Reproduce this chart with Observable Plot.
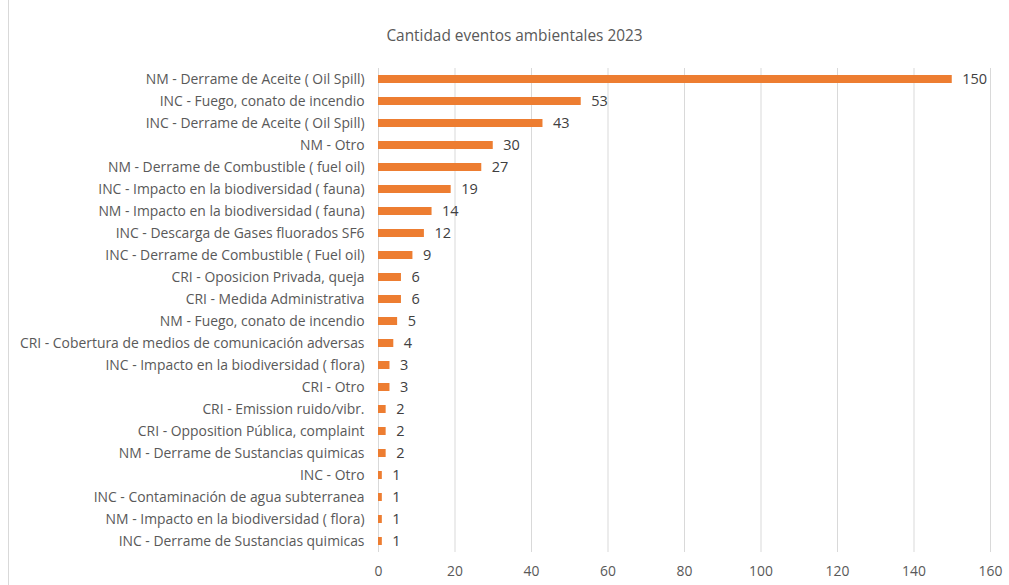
<!DOCTYPE html>
<html>
<head>
<meta charset="utf-8">
<script src="https://cdn.jsdelivr.net/npm/d3@7"></script>
<script src="https://cdn.jsdelivr.net/npm/@observablehq/plot@0.6"></script>
<style>
  html, body { margin: 0; padding: 0; background: #fff; }
  #wrap { position: relative; width: 1009px; height: 585px; overflow: hidden; }
  #border { position: absolute; left: 8px; top: 0; width: 1px; height: 585px; background: #d9d9d9; }
  #title { position: absolute; left: 0; width: 1009px; top: 25px; text-align: center; padding-left: 20px; box-sizing: border-box;
           font-family: "Open Sans", sans-serif; font-size: 15.4px; color: #595959; }
  #chart { position: absolute; left: 0; top: 0; }
</style>
</head>
<body>
<div id="wrap">
  <div id="border"></div>
  <div id="chart"></div>
  <div id="title">Cantidad eventos ambientales 2023</div>
</div>
<script>
const categories = [
  "NM - Derrame de Aceite ( Oil Spill)",
  "INC - Fuego, conato de incendio",
  "INC - Derrame de Aceite ( Oil Spill)",
  "NM - Otro",
  "NM - Derrame de Combustible ( fuel oil)",
  "INC - Impacto en la biodiversidad ( fauna)",
  "NM - Impacto en la biodiversidad ( fauna)",
  "INC - Descarga de Gases fluorados SF6",
  "INC - Derrame de Combustible ( Fuel oil)",
  "CRI - Oposicion Privada, queja",
  "CRI - Medida Administrativa",
  "NM - Fuego, conato de incendio",
  "CRI - Cobertura de medios de comunicación adversas",
  "INC - Impacto en la biodiversidad ( flora)",
  "CRI - Otro",
  "CRI - Emission ruido/vibr.",
  "CRI - Opposition Pública, complaint",
  "NM - Derrame de Sustancias quimicas",
  "INC - Otro",
  "INC - Contaminación de agua subterranea",
  "NM - Impacto en la biodiversidad ( flora)",
  "INC - Derrame de Sustancias quimicas"
];
const values = [150, 53, 43, 30, 27, 19, 14, 12, 9, 6, 6, 5, 4, 3, 3, 2, 2, 2, 1, 1, 1, 1];
const xTicks = [0, 20, 40, 60, 80, 100, 120, 140, 160];

const data = categories.map((c, i) => ({category: c, value: values[i]}));

const chart = Plot.plot({
  width: 1009,
  height: 585,
  marginLeft: 378,
  marginRight: 19,
  marginTop: 68,
  marginBottom: 33,
  style: {fontFamily: "Open Sans, sans-serif", fontSize: "13.9px", color: "#595959", background: "transparent"},
  x: {domain: [0, 160], ticks: xTicks, label: null, tickSize: 0, tickPadding: 14},
  y: {domain: categories, label: null, tickSize: 0, tickPadding: 14, paddingInner: 0.64, paddingOuter: 0.32},
  marks: [
    Plot.ruleX(xTicks, {stroke: "#d9d9d9", strokeWidth: 1, strokeOpacity: 1}),
    Plot.barX(data, {x: "value", y: "category", fill: "#ED7D31"}),
    Plot.text(data, {x: "value", y: "category", text: d => String(d.value), textAnchor: "start", dx: 10, fill: "#404040", fontSize: 14.5})
  ]
});
document.getElementById("chart").appendChild(chart);
</script>
</body>
</html>
